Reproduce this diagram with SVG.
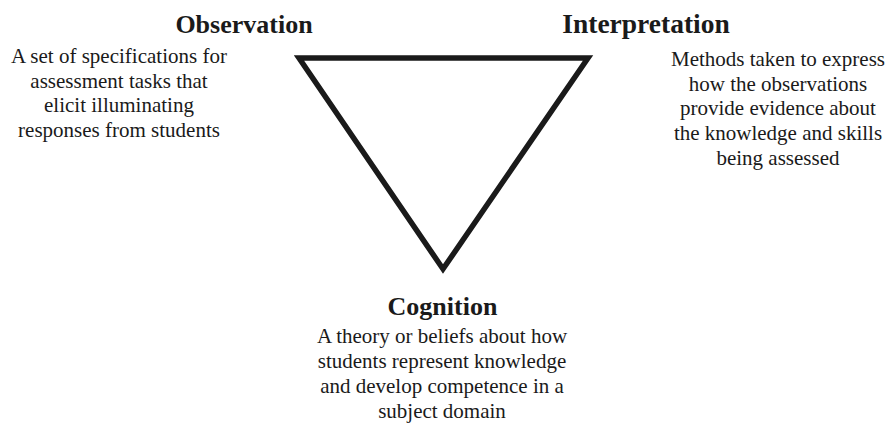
<svg xmlns="http://www.w3.org/2000/svg" width="890" height="431" viewBox="0 0 890 431">
<style>
.t{font-family:"Liberation Serif","Times New Roman",serif;font-weight:bold;font-size:26px;fill:#1a1a1a;text-anchor:middle}
.d{font-family:"Liberation Serif","Times New Roman",serif;font-size:21px;fill:#1a1a1a;text-anchor:middle}
</style>
<rect width="890" height="431" fill="#fff"/>
<g id="triangle">
<polygon points="299,58 588,58 443,269" fill="none" stroke="#1a1a1a" stroke-width="5.5" stroke-linejoin="miter" stroke-miterlimit="10"/>
</g>
<g id="observation">
<text class="t" x="244" y="33">Observation</text>
<text class="d" x="119" y="63">A set of specifications for</text>
<text class="d" x="119" y="87.5">assessment tasks that</text>
<text class="d" x="119" y="112">elicit illuminating</text>
<text class="d" x="119" y="136.5">responses from students</text>
</g>
<g id="interpretation">
<text class="t" x="646" y="33" style="font-size:27.5px">Interpretation</text>
<text class="d" x="778" y="66">Methods taken to express</text>
<text class="d" x="778" y="90.7">how the observations</text>
<text class="d" x="778" y="115.4">provide evidence about</text>
<text class="d" x="778" y="140.1">the knowledge and skills</text>
<text class="d" x="778" y="164.8">being assessed</text>
</g>
<g id="cognition">
<text class="t" x="442.5" y="315">Cognition</text>
<text class="d" x="442" y="343">A theory or beliefs about how</text>
<text class="d" x="442" y="368">students represent knowledge</text>
<text class="d" x="442" y="393">and develop competence in a</text>
<text class="d" x="442" y="418">subject domain</text>
</g>
<g id="connectors"></g>
</svg>
